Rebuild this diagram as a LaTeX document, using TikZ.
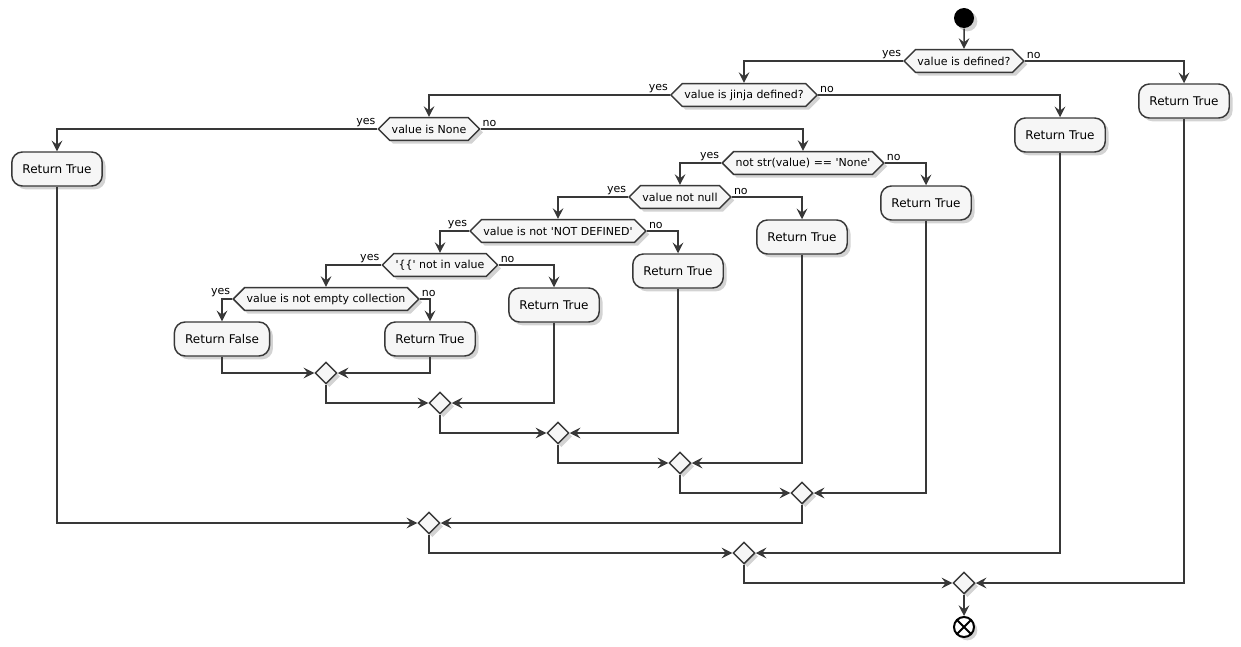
\documentclass[tikz,border=0pt]{standalone}
\usepackage{fontspec}
\setmainfont{DejaVu Sans}
\usetikzlibrary{arrows.meta,shapes.geometric,shapes.symbols,shadows,positioning}

\definecolor{umlline}{HTML}{383838}
\definecolor{umlfill}{HTML}{F6F6F6}

\begin{document}
\begin{tikzpicture}[x=0.75pt, y=-0.75pt, line width=1.1pt,
  shade/.style={drop shadow={shadow xshift=2.5pt, shadow yshift=-2.5pt, opacity=0.35}},
  flow/.style={draw=umlline, -{Stealth[length=8pt, width=8pt, inset=3pt]}},
  act/.style={draw=umlline, fill=umlfill, rounded corners=8pt, minimum height=25.5pt, inner xsep=8pt, font=\fontsize{9}{10}\selectfont, shade},
  lbl/.style={font=\fontsize{8.25}{9}\selectfont, inner sep=1pt},
  test/.style={shape=signal, signal to=west and east, signal pointer angle=90, draw=umlline, fill=umlfill, minimum height=17pt, inner xsep=1.5pt, inner ysep=0pt, font=\fontsize{8.25}{9}\selectfont, shade, label={[lbl, anchor=south east]west:yes}, label={[lbl, anchor=south west]east:no}},
  merge/.style={diamond, draw=umlline, fill=umlfill, minimum width=16.5pt, minimum height=16.5pt, inner sep=0pt, shade}]
  \useasboundingbox (0,0) rectangle (1241,646);

  % start and end
  \node[circle, fill=black, minimum size=15pt, inner sep=0pt, shade] (start) at (964,18) {};
  \node[circle, draw=black, fill=white, line width=1.5pt, minimum size=15pt, inner sep=0pt, shade,
        path picture={\draw[line width=1.5pt] (path picture bounding box.north west) -- (path picture bounding box.south east)
                                              (path picture bounding box.north east) -- (path picture bounding box.south west);}] (stop) at (964,627) {};

  % tests
  \node[test] (d1) at (964,61) {value is defined?};
  \node[test] (d2) at (744,95) {value is jinja defined?};
  \node[test] (d3) at (429,129) {value is None};
  \node[test] (d4) at (803,163) {not str(value) == \textquotesingle None\textquotesingle};
  \node[test] (d5) at (680,197) {value not null};
  \node[test] (d6) at (558,231) {value is not \textquotesingle NOT DEFINED\textquotesingle};
  \node[test] (d7) at (440,265) {\textquotesingle\{\{\textquotesingle\ not in value};
  \node[test] (d8) at (326,299) {value is not empty collection};

  % actions
  \foreach \nm/\x/\y in {r1/1184/101, r2/1060/135, r3/57/169, r4/926/203, r5/802/237, r6/678/271, r7/554/305, r8/430/339}
    \node[act] (\nm) at (\x,\y) {Return True};
  \node[act] (rF) at (222,339) {Return False};

  % merges
  \foreach \nm/\x/\y in {m8/326/373, m7/440/403, m6/558/433, m5/680/463, m4/802/493, m3/429/523, m2/744/553, m1/964/583}
    \node[merge] (\nm) at (\x,\y) {};

  \draw[flow] (start) -- (d1);
  \foreach \dec/\yb/\nb in {d1/d2/r1, d2/d3/r2, d3/r3/d4, d4/d5/r4, d5/d6/r5, d6/d7/r6, d7/d8/r7, d8/rF/r8} {
    \draw[flow] (\dec.west) -| (\yb);
    \draw[flow] (\dec.east) -| (\nb);
  }
  \foreach \a/\b in {rF/m8, r8/m8, m8/m7, r7/m7, m7/m6, r6/m6, m6/m5, r5/m5, m5/m4, r4/m4, m4/m3, r3/m3, m3/m2, r2/m2, m2/m1, r1/m1}
    \draw[flow] (\a) |- (\b);
  \draw[flow] (m1) -- (stop);
\end{tikzpicture}
\end{document}
